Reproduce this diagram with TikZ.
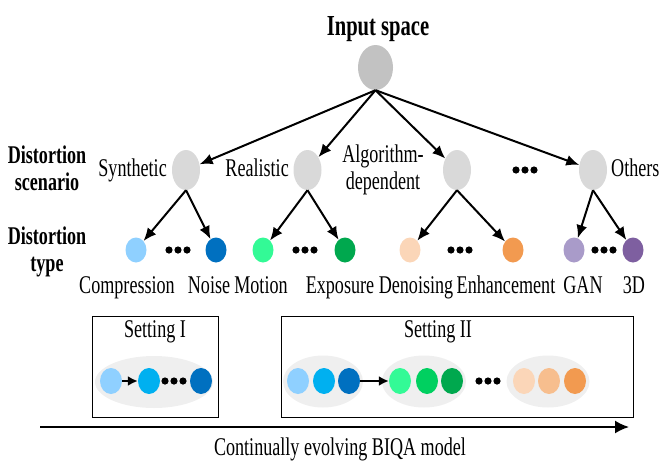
\documentclass[tikz,border=0pt]{standalone}
\usepackage{fontspec}
\setmainfont{Liberation Serif}[FakeStretch=0.71]
\usepackage{xcolor}
\usepackage{tikz}
\usetikzlibrary{arrows.meta}
\usetikzlibrary{shapes.geometric}
\usetikzlibrary{positioning}

\definecolor{rootgray}{HTML}{C2C2C2}
\definecolor{nodegray}{HTML}{D9D9D9}
\definecolor{setbg}{HTML}{EFEFEF}
\definecolor{blueA}{HTML}{8FD0FF}
\definecolor{blueB}{HTML}{00B0F0}
\definecolor{blueC}{HTML}{0070C0}
\definecolor{greenA}{HTML}{33FA96}
\definecolor{greenB}{HTML}{00D060}
\definecolor{greenC}{HTML}{00A84E}
\definecolor{orangeA}{HTML}{FBD6B8}
\definecolor{orangeB}{HTML}{F7BE8E}
\definecolor{orangeC}{HTML}{F29A50}
\definecolor{purpleA}{HTML}{A99BC9}
\definecolor{purpleC}{HTML}{7E5FA0}

\tikzset{
  rootnode/.style={ellipse, fill=rootgray, minimum width=35, minimum height=45, inner sep=0},
  scennode/.style={ellipse, fill=nodegray, minimum width=28, minimum height=40, inner sep=0},
  typenode/.style={ellipse, minimum width=21, minimum height=25, inner sep=0},
  seqnode/.style={ellipse, minimum width=22, minimum height=26, inner sep=0},
  groupnode/.style={ellipse, fill=setbg, minimum height=52, inner sep=0},
  branch/.style={-{Latex[length=13pt,width=11pt]}, line width=2pt},
  stepto/.style={-{Latex[length=10pt,width=10pt]}, line width=2pt},
  txt/.style={font=\fontsize{25.5}{27}\selectfont, inner sep=0},
  btxt/.style={font=\fontsize{25.5}{27}\selectfont\bfseries, inner sep=0, align=center},
}
\newcommand{\dotrow}[1]{\foreach \dx in {-9,0,9} \fill [shift={(#1)}] (\dx,0) circle (3.6pt);}

\begin{document}
\begin{tikzpicture}[x=1pt, y=-1pt]
\useasboundingbox (0,0) rectangle (662,464);
\node [txt, anchor=base, font=\fontsize{29}{30}\selectfont\bfseries] (title) at (378,35) {Input space};
\node [rootnode] (root) at (375.5,67.5) {};

\node [btxt] (scenlab) at (47,168) {Distortion\\scenario};
\node [btxt] (typelab) at (47,252) {Distortion\\type};

\node [scennode] (syn) at (186,170) {};
\node [scennode] (real) at (307.5,170) {};
\node [scennode] (alg) at (457,170) {};
\node [scennode] (oth) at (593,170) {};
\node [txt, anchor=base east] (synlab) at (167,176) {Synthetic};
\node [txt, anchor=base east] (reallab) at (289,176) {Realistic};
\node [txt, align=center] (alglab) at (383,170) {Algorithm-\\dependent};
\node [txt, anchor=base west] (othlab) at (611,176) {Others};
\dotrow{525,170}

\draw [branch] (root.south) to (syn);
\draw [branch] (root.south) to (real);
\draw [branch] (root.south) to (alg);
\draw [branch] (root.south) to (oth);

\node [typenode, fill=blueA] (cmp) at (136,250) {};
\node [typenode, fill=blueC] (noi) at (216,250) {};
\node [typenode, fill=greenA] (mot) at (263,250) {};
\node [typenode, fill=greenC] (exp) at (345,250) {};
\node [typenode, fill=orangeA] (den) at (410,250) {};
\node [typenode, fill=orangeC] (enh) at (513,250) {};
\node [typenode, fill=purpleA] (gan) at (574,250) {};
\node [typenode, fill=purpleC] (thd) at (633,250) {};
\dotrow{178,250}
\dotrow{305,250}
\dotrow{460,250}
\dotrow{604,250}

\draw [branch] (syn.south) to (cmp);
\draw [branch] (syn.south) to (noi);
\draw [branch] (real.south) to (mot);
\draw [branch] (real.south) to (exp);
\draw [branch] (alg.south) to (den);
\draw [branch] (alg.south) to (enh);
\draw [branch] (oth.south) to (gan);
\draw [branch] (oth.south) to (thd);

\node [txt, anchor=base] (cmplab) at (127,293) {Compression};
\node [txt, anchor=base] (noilab) at (209,293) {Noise};
\node [txt, anchor=base] (motlab) at (261,293) {Motion};
\node [txt, anchor=base] (explab) at (340,293) {Exposure};
\node [txt, anchor=base] (denlab) at (416,293) {Denoising};
\node [txt, anchor=base] (enhlab) at (506,293) {Enhancement};
\node [txt, anchor=base] (ganlab) at (583,293) {GAN};
\node [txt, anchor=base] (thdlab) at (634,293) {3D};

\draw [line width=0.8pt] (92,316) rectangle (218,417);
\node [txt, anchor=base] (setone) at (155,337) {Setting I};
\node [groupnode, minimum width=118] (gone) at (154,382) {};
\node [seqnode, fill=blueA] (oa) at (111,381) {};
\node [seqnode, fill=blueB] (ob) at (149,381) {};
\node [seqnode, fill=blueC] (oc) at (201,381) {};
\dotrow{174,381}
\draw [stepto] (oa) to (ob);

\draw [line width=0.8pt] (281,316) rectangle (633,417);
\node [txt, anchor=base] (settwo) at (438,337) {Setting II};
\node [groupnode, minimum width=80] (ga) at (323,381.5) {};
\node [groupnode, minimum width=84] (gb) at (424,381.5) {};
\node [groupnode, minimum width=83] (gc) at (548,381.5) {};
\node [seqnode, fill=blueA] (ta) at (298,381) {};
\node [seqnode, fill=blueB] (tb) at (324,381) {};
\node [seqnode, fill=blueC] (tc) at (349,381) {};
\node [seqnode, fill=greenA] (td) at (400,381) {};
\node [seqnode, fill=greenB] (te) at (427,381) {};
\node [seqnode, fill=greenC] (tf) at (452,381) {};
\node [seqnode, fill=orangeA] (tg) at (524,381) {};
\node [seqnode, fill=orangeB] (th) at (549,381) {};
\node [seqnode, fill=orangeC] (ti) at (575,381) {};
\draw [stepto] (tc) to (td);
\dotrow{488,381}

\coordinate (tl) at (40,427);
\coordinate (tr) at (629,427);
\draw [-{Latex[length=14pt,width=13pt]}, line width=1.8pt] (tl) to (tr);
\node [txt, anchor=base] (modellab) at (340,455) {Continually evolving BIQA model};
\end{tikzpicture}
\end{document}
